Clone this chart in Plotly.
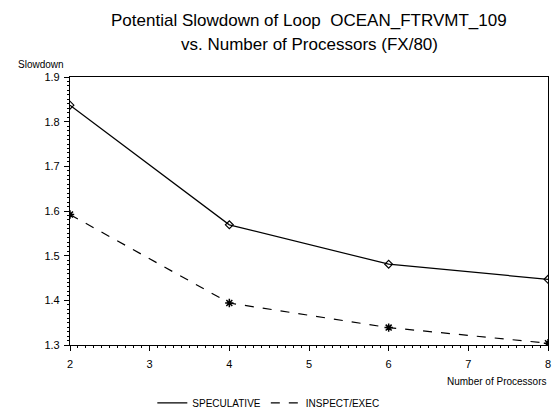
import plotly.graph_objects as go

processors = [2, 4, 6, 8]
speculative = [1.837, 1.569, 1.481, 1.447]
inspect_exec = [1.592, 1.394, 1.339, 1.304]

FONT = "Liberation Sans, Arial, sans-serif"
H, T, B = 411, 77, 66
PH = H - T - B


def py(pix):
    """convert a pixel row from the top of the page into paper y"""
    return (H - B - pix) / PH


fig = go.Figure()
# lines (legend entries)
fig.add_trace(go.Scatter(x=processors, y=speculative, mode="lines", name="SPECULATIVE",
                         line=dict(color="black", width=1.2)))
fig.add_trace(go.Scatter(x=processors, y=inspect_exec, mode="lines", name="INSPECT/EXEC",
                         line=dict(color="black", width=1.2, dash="dash")))
# markers
fig.add_trace(go.Scatter(x=processors, y=speculative, mode="markers", showlegend=False,
                         marker=dict(symbol="diamond-open", size=6, color="black", line=dict(width=1.2))))
fig.add_trace(go.Scatter(x=processors, y=inspect_exec, mode="markers", showlegend=False,
                         marker=dict(symbol="asterisk-open", size=7, color="black", line=dict(width=1.5))))

fig.update_layout(
    width=559, height=H,
    margin=dict(l=70, r=11, t=T, b=B, autoexpand=False),
    paper_bgcolor="white", plot_bgcolor="white",
    font=dict(family=FONT, size=11, color="black"),
    showlegend=True,
    legend=dict(orientation="h", xref="container", x=0.48, xanchor="center",
                yref="container", y=0.02, yanchor="middle",
                font=dict(size=10), itemwidth=30, bgcolor="rgba(0,0,0,0)"),
    xaxis=dict(range=[2, 8], dtick=1, ticks="outside", ticklen=5, tickwidth=1, tickcolor="black",
               showline=True, linecolor="black", linewidth=1.2, mirror=True, showgrid=False,
               zeroline=False, tickfont=dict(size=11), ticklabelstandoff=4,
               minor=dict(dtick=0.1, ticks="outside", ticklen=2, tickcolor="black", showgrid=False)),
    yaxis=dict(range=[1.3, 1.9], dtick=0.1, ticks="outside", ticklen=5, tickwidth=1, tickcolor="black",
               showline=True, linecolor="black", linewidth=1.2, mirror=True, showgrid=False,
               zeroline=False, tickfont=dict(size=11), tickformat=".1f", ticklabelstandoff=2,
               minor=dict(dtick=0.01, ticks="outside", ticklen=2, tickcolor="black", showgrid=False)),
    annotations=[
        dict(text="Potential Slowdown of Loop  OCEAN_FTRVMT_109", xref="paper", yref="paper",
             x=0.5, y=py(20), yanchor="middle", xanchor="center", showarrow=False,
             font=dict(size=17)),
        dict(text="vs. Number of Processors (FX/80)", xref="paper", yref="paper",
             x=0.5, y=py(44), yanchor="middle", xanchor="center", showarrow=False,
             font=dict(size=17)),
        dict(text="Slowdown", xref="paper", yref="paper", x=-0.112, y=py(64), xanchor="left",
             yanchor="middle", showarrow=False, font=dict(size=10)),
        dict(text="Number of Processors", xref="paper", yref="paper", x=1.0, y=py(381),
             xanchor="right", yanchor="middle", showarrow=False, font=dict(size=10)),
    ],
)

fig.write_html("out.html")
